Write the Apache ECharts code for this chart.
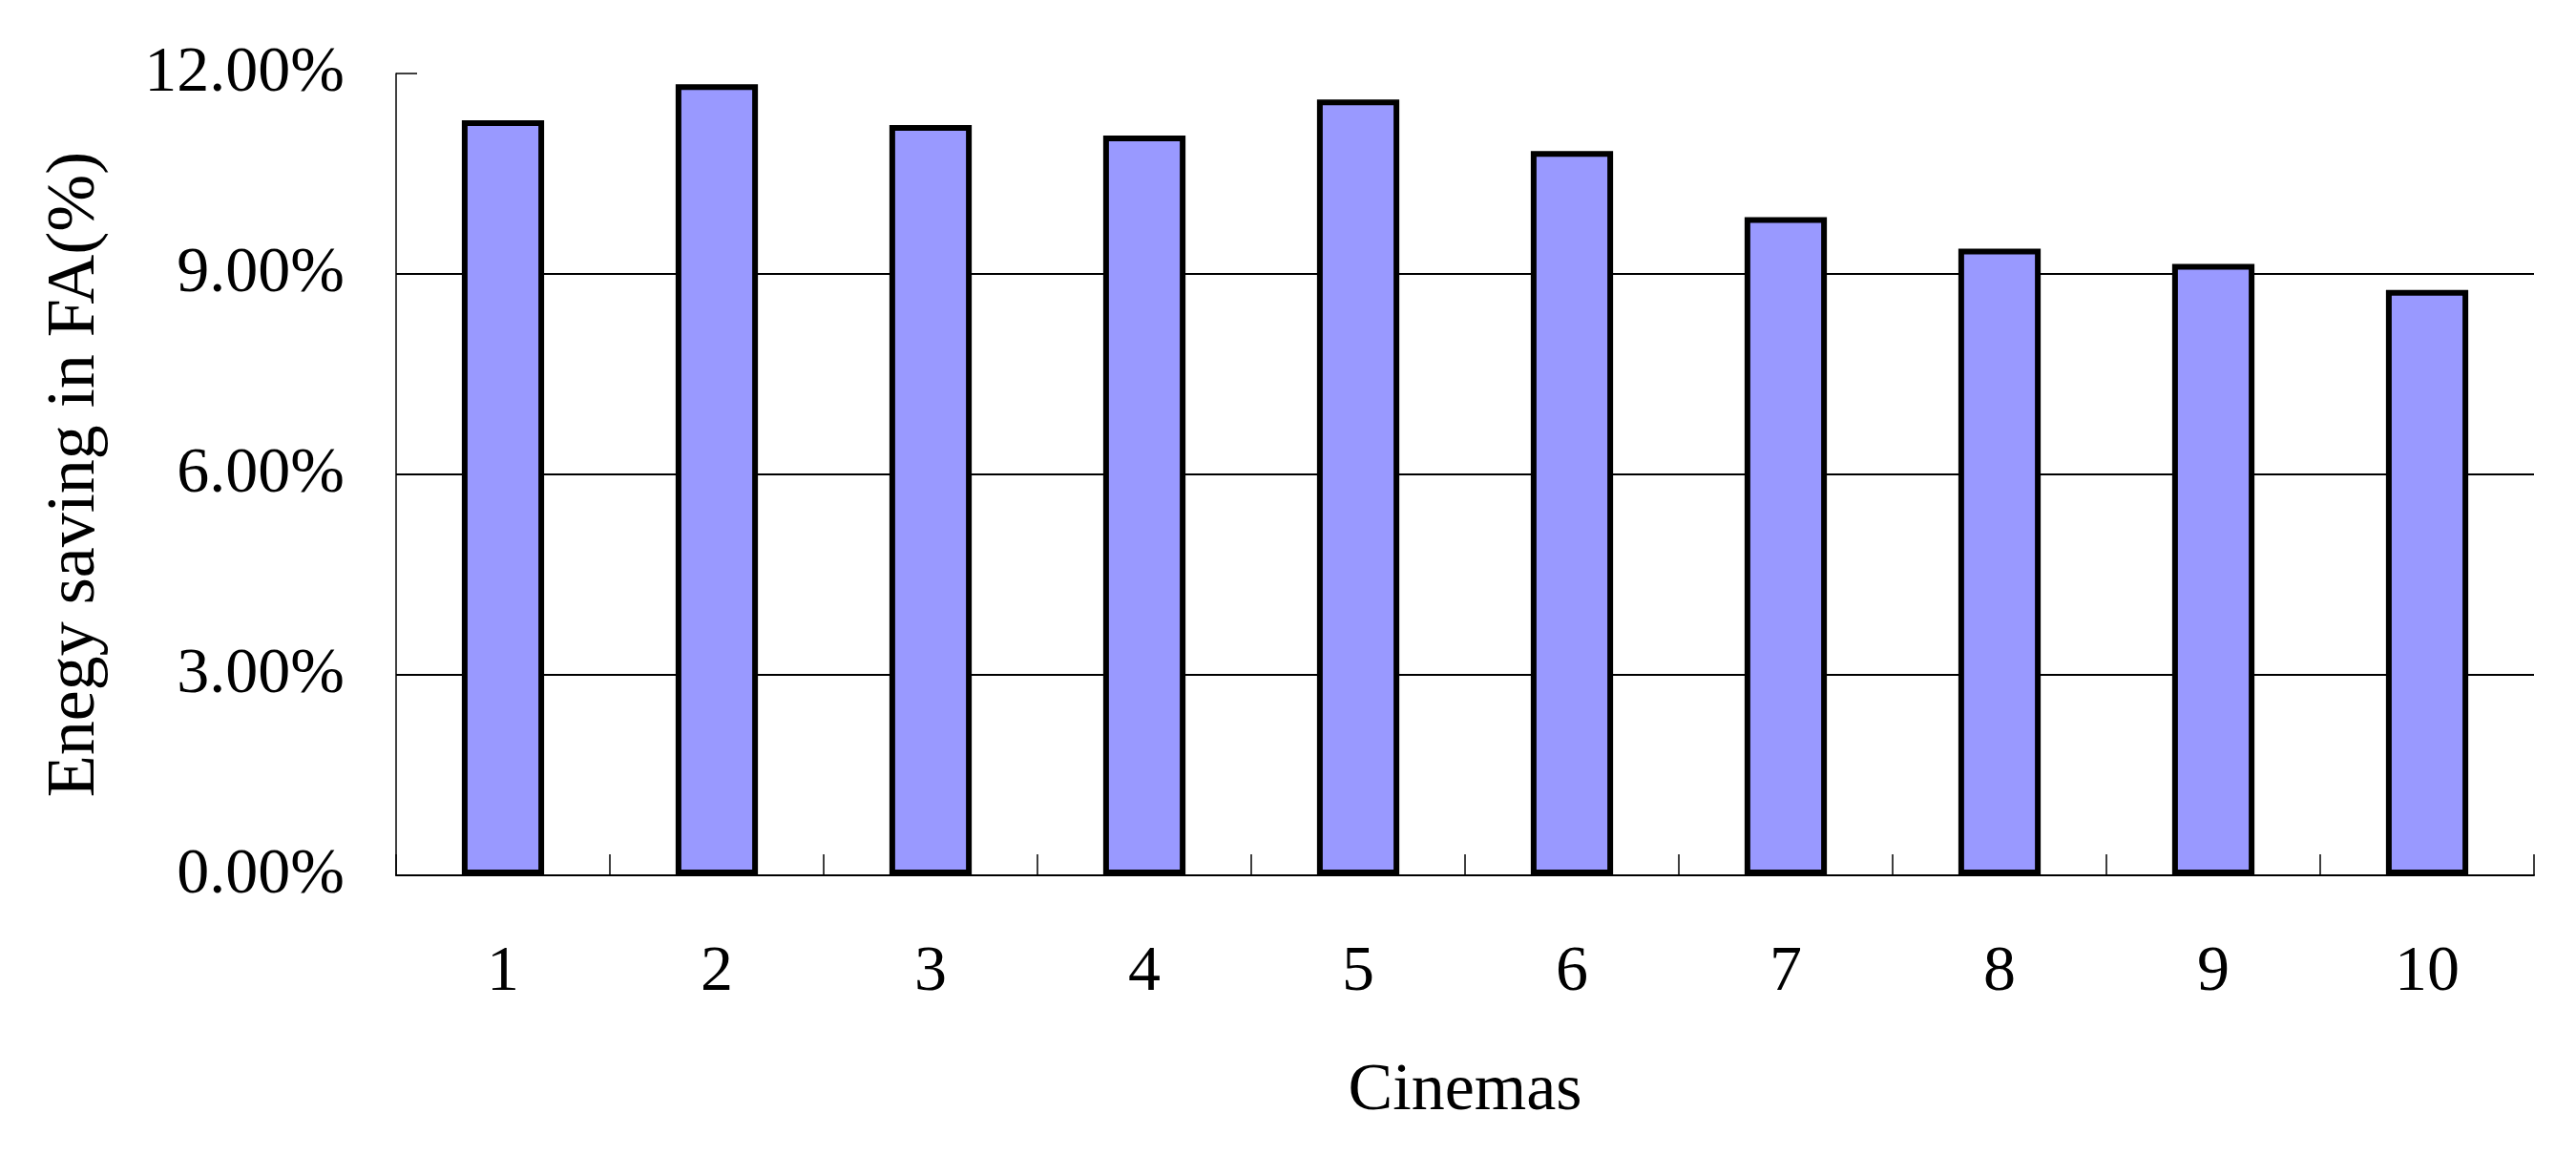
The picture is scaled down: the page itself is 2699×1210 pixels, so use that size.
<!DOCTYPE html>
<html>
<head>
<meta charset="utf-8">
<script src="https://cdn.jsdelivr.net/npm/echarts@6/dist/echarts.min.js"></script>
<style>
  html, body { margin: 0; padding: 0; background: #fff; }
  #draw { width: 2699px; height: 1210px; }
</style>
</head>
<body>
<div id="draw"></div>
<script>
// cinemas and energy saving values (fraction)
var cinemas = ['1', '2', '3', '4', '5', '6', '7', '8', '9', '10'];
var savings = [0.1130, 0.1184, 0.1123, 0.1107, 0.1161, 0.1084, 0.0985, 0.0938, 0.0915, 0.0876];
var yTicks = [0, 0.03, 0.06, 0.09, 0.12];

var font = '"Liberation Serif", "Times New Roman", serif';
var chart = echarts.init(document.getElementById('draw'));

var option = {
  backgroundColor: '#fff',
  animation: false,
  grid: { left: 415, right: 44, top: 77, bottom: 293 },
  xAxis: {
    type: 'category',
    data: cinemas,
    name: 'Cinemas',
    nameLocation: 'middle',
    nameGap: 192,
    nameTextStyle: { fontFamily: font, fontSize: 70, color: '#000' },
    axisLine: { lineStyle: { color: '#000', width: 2 } },
    axisTick: { show: true, inside: true, length: 22, lineStyle: { color: '#000', width: 1.5 } },
    axisLabel: { fontFamily: font, fontSize: 68, color: '#000', margin: 68 },
    splitLine: { show: false }
  },
  yAxis: {
    type: 'value',
    min: yTicks[0],
    max: yTicks[yTicks.length - 1],
    interval: 0.03,
    name: 'Enegy saving in FA(%)',
    nameLocation: 'middle',
    nameGap: 300,
    nameTextStyle: { fontFamily: font, fontSize: 72, color: '#000' },
    axisLine: { show: true, lineStyle: { color: '#000', width: 1.5 } },
    axisTick: { show: true, inside: true, length: 22, lineStyle: { color: '#000', width: 1.5 } },
    axisLabel: {
      fontFamily: font, fontSize: 68, color: '#000', margin: 54,
      formatter: function (v) { return (v * 100).toFixed(2) + '%'; }
    },
    splitLine: { show: true, showMaxLine: false, lineStyle: { color: '#000', width: 2 } }
  },
  series: [
    {
      type: 'bar',
      data: savings,
      barWidth: '38.5%',
      itemStyle: { color: '#9999ff', borderColor: '#000', borderWidth: 6 }
    }
  ]
};

chart.setOption(option);
</script>
</body>
</html>
